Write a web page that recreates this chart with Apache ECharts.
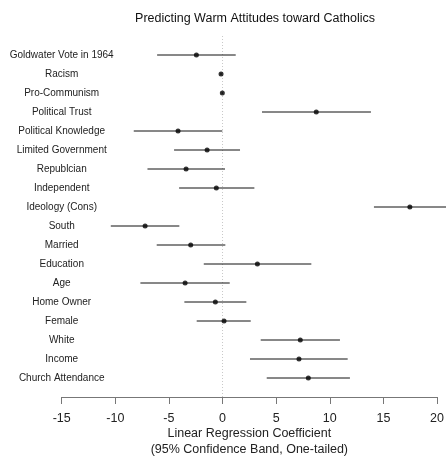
<!DOCTYPE html>
<html>
<head>
<meta charset="utf-8">
<script src="https://cdn.jsdelivr.net/npm/echarts@6/dist/echarts.min.js"></script>
<style>
html,body{margin:0;padding:0;background:#fff;}
#chart{width:446px;height:462px;}
</style>
</head>
<body>
<div id="chart"></div>
<script>
const categories = ["Goldwater Vote in 1964","Racism","Pro-Communism","Political Trust","Political Knowledge","Limited Government","Republcian","Independent","Ideology (Cons)","South","Married","Education","Age","Home Owner","Female","White","Income","Church Attendance"];
const estimates = [-2.44, -0.14, -0.02, 8.74, -4.15, -1.44, -3.40, -0.58, 17.47, -7.22, -2.97, 3.25, -3.49, -0.67, 0.14, 7.25, 7.13, 8.00];
const lowers    = [-6.10, -0.22, -0.09, 3.68, -8.28, -4.52, -7.00, -4.05, 14.12, -10.42, -6.14, -1.75, -7.66, -3.56, -2.41, 3.56, 2.56, 4.12];
const uppers    = [ 1.23, -0.06,  0.05, 13.84, -0.02, 1.63, 0.23, 2.97, 20.85, -4.03, 0.26, 8.28, 0.67, 2.22, 2.63, 10.95, 11.67, 11.88];
const xTicks = [-15, -10, -5, 0, 5, 10, 15, 20];
const titleText = "Predicting Warm Attitudes toward Catholics";
const xName = "Linear Regression Coefficient\n(95% Confidence Band, One-tailed)";

const FONT = "'Liberation Sans', Arial, sans-serif";
const nRows = categories.length;

const chart = echarts.init(document.getElementById('chart'), null, {renderer: 'canvas'});

const barData = categories.map((c, i) => [lowers[i], uppers[i], i + 1]);
const pointData = categories.map((c, i) => [estimates[i], i + 1]);

chart.setOption({
  animation: false,
  backgroundColor: '#fff',
  title: {
    text: titleText,
    left: 250, top: 7,
    textAlign: 'center',
    textStyle: {fontFamily: FONT, fontSize: 12.5, fontWeight: 'normal', color: '#111'}
  },
  grid: {left: 61.7, right: 9, top: 36, bottom: 65, containLabel: false, outerBoundsMode: 'none'},
  xAxis: {
    type: 'value',
    min: xTicks[0], max: xTicks[xTicks.length - 1], interval: 5,
    axisLine: {show: true, onZero: false, lineStyle: {color: '#777', width: 1}},
    axisTick: {show: true, length: 7, inside: false, lineStyle: {color: '#777'}},
    splitLine: {show: false},
    axisLabel: {margin: 15, fontFamily: FONT, fontSize: 12.5, color: '#222',
      showMinLabel: true, showMaxLabel: true},
    name: xName,
    nameLocation: 'middle',
    nameGap: 28,
    nameMoveOverlap: false,
    nameTextStyle: {fontFamily: FONT, fontSize: 12.5, color: '#222', lineHeight: 16.5, verticalAlign: 'top'}
  },
  yAxis: {
    type: 'value', inverse: true,
    min: 0, max: nRows + 1, interval: 1,
    axisLine: {show: false}, axisTick: {show: false}, splitLine: {show: false},
    axisLabel: {
      margin: 0, align: 'center', fontFamily: FONT, fontSize: 10, color: '#222',
      showMinLabel: true, showMaxLabel: true,
      formatter: v => categories[v - 1] || ''
    }
  },
  series: [
    {
      type: 'line',
      data: [[0, 0], [0, nRows + 1]],
      symbol: 'none',
      lineStyle: {color: '#c8c8c8', width: 1, type: [1, 2]},
      z: 1, silent: true
    },
    {
      type: 'custom',
      clip: false,
      data: barData,
      renderItem: (params, api) => {
        const a = api.coord([api.value(0), api.value(2)]);
        const b = api.coord([api.value(1), api.value(2)]);
        return {
          type: 'line',
          shape: {x1: a[0], y1: a[1], x2: b[0], y2: b[1]},
          style: {stroke: '#111', lineWidth: 1}
        };
      },
      z: 2, silent: true
    },
    {
      type: 'scatter',
      data: pointData,
      symbol: 'circle',
      symbolSize: 5,
      itemStyle: {color: '#000'},
      z: 3, silent: true
    }
  ]
});
</script>
</body>
</html>
